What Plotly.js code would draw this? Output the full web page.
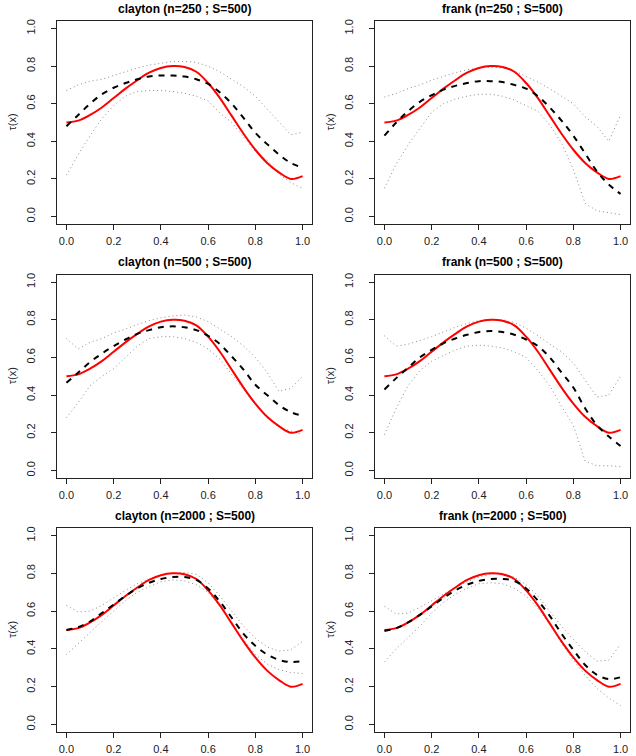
<!DOCTYPE html>
<html>
<head>
<meta charset="utf-8">
<script src="https://cdn.plot.ly/plotly-3.0.1.min.js"></script>
<style>body{margin:0;padding:0;background:#fff}#chart{width:636px;height:756px}</style>
</head>
<body>
<div id="chart"></div>
<script>
// Shared x grid
const xGrid = [0,0.05,0.1,0.15,0.2,0.25,0.3,0.35,0.4,0.45,0.5,0.55,0.6,0.65,0.7,0.75,0.8,0.85,0.9,0.95,1.0];

// True tau(x) (red)
const truth = [0.50,0.51,0.54,0.58,0.63,0.68,0.725,0.765,0.79,0.80,0.795,0.77,0.71,0.63,0.535,0.44,0.355,0.285,0.235,0.20,0.215];

// Panel titles
const panelTitles = ["clayton (n=250 ; S=500)","frank (n=250 ; S=500)","clayton (n=500 ; S=500)","frank (n=500 ; S=500)","clayton (n=2000 ; S=500)","frank (n=2000 ; S=500)"];

// clayton n=250
const claytonN250Mean  = [0.48,0.54,0.60,0.65,0.685,0.71,0.73,0.745,0.75,0.75,0.745,0.73,0.705,0.66,0.60,0.525,0.445,0.385,0.33,0.285,0.26];
const claytonN250Upper = [0.67,0.70,0.72,0.73,0.75,0.77,0.79,0.805,0.815,0.825,0.825,0.82,0.80,0.77,0.73,0.69,0.64,0.57,0.50,0.435,0.448];
const claytonN250Lower = [0.22,0.33,0.43,0.52,0.59,0.64,0.665,0.67,0.67,0.665,0.655,0.64,0.615,0.55,0.50,0.42,0.345,0.30,0.225,0.18,0.15];

// frank n=250
const frankN250Mean  = [0.43,0.50,0.56,0.61,0.645,0.675,0.695,0.71,0.72,0.72,0.715,0.70,0.68,0.64,0.58,0.51,0.43,0.335,0.24,0.17,0.12];
const frankN250Upper = [0.635,0.655,0.68,0.70,0.725,0.745,0.765,0.78,0.79,0.795,0.79,0.775,0.745,0.715,0.68,0.64,0.60,0.53,0.48,0.40,0.54];
const frankN250Lower = [0.15,0.28,0.38,0.47,0.555,0.60,0.625,0.64,0.65,0.65,0.64,0.62,0.59,0.56,0.487,0.39,0.25,0.07,0.03,0.02,0.01];

// clayton n=500
const claytonN500Mean  = [0.465,0.52,0.575,0.62,0.66,0.695,0.725,0.745,0.76,0.765,0.76,0.745,0.715,0.67,0.605,0.535,0.455,0.40,0.347,0.31,0.29];
const claytonN500Upper = [0.70,0.645,0.68,0.70,0.73,0.75,0.775,0.795,0.81,0.82,0.825,0.815,0.79,0.75,0.71,0.66,0.60,0.52,0.42,0.435,0.50];
const claytonN500Lower = [0.28,0.36,0.45,0.50,0.54,0.60,0.66,0.70,0.71,0.71,0.70,0.68,0.645,0.59,0.51,0.43,0.35,0.28,0.23,0.21,0.19];

// frank n=500
const frankN500Mean  = [0.43,0.49,0.545,0.60,0.64,0.675,0.70,0.72,0.735,0.74,0.735,0.72,0.695,0.66,0.60,0.52,0.44,0.33,0.24,0.18,0.13];
const frankN500Upper = [0.715,0.66,0.67,0.69,0.71,0.735,0.76,0.78,0.795,0.80,0.80,0.785,0.755,0.715,0.67,0.63,0.57,0.48,0.39,0.40,0.50];
const frankN500Lower = [0.19,0.33,0.45,0.53,0.58,0.61,0.64,0.66,0.665,0.66,0.65,0.63,0.60,0.53,0.45,0.34,0.24,0.05,0.025,0.025,0.02];

// clayton n=2000
const claytonN2000Mean  = [0.50,0.515,0.545,0.59,0.635,0.68,0.72,0.75,0.77,0.78,0.78,0.765,0.72,0.65,0.565,0.48,0.416,0.37,0.342,0.33,0.335];
const claytonN2000Upper = [0.63,0.595,0.60,0.63,0.67,0.71,0.745,0.77,0.79,0.80,0.805,0.795,0.75,0.68,0.60,0.52,0.457,0.41,0.388,0.395,0.44];
const claytonN2000Lower = [0.37,0.43,0.49,0.545,0.60,0.655,0.70,0.73,0.755,0.765,0.76,0.74,0.70,0.625,0.54,0.45,0.37,0.32,0.29,0.275,0.27];

// frank n=2000
const frankN2000Mean  = [0.495,0.51,0.54,0.58,0.625,0.67,0.71,0.74,0.76,0.77,0.77,0.76,0.72,0.655,0.575,0.48,0.395,0.315,0.263,0.24,0.25];
const frankN2000Upper = [0.625,0.585,0.59,0.62,0.655,0.69,0.725,0.755,0.78,0.795,0.80,0.78,0.74,0.68,0.60,0.52,0.45,0.385,0.335,0.34,0.425];
const frankN2000Lower = [0.33,0.40,0.46,0.52,0.59,0.645,0.69,0.72,0.745,0.75,0.745,0.72,0.68,0.615,0.53,0.43,0.34,0.26,0.19,0.14,0.10];

const panels = [
  {mean: claytonN250Mean, upper: claytonN250Upper, lower: claytonN250Lower},
  {mean: frankN250Mean, upper: frankN250Upper, lower: frankN250Lower},
  {mean: claytonN500Mean, upper: claytonN500Upper, lower: claytonN500Lower},
  {mean: frankN500Mean, upper: frankN500Upper, lower: frankN500Lower},
  {mean: claytonN2000Mean, upper: claytonN2000Upper, lower: claytonN2000Lower},
  {mean: frankN2000Mean, upper: frankN2000Upper, lower: frankN2000Lower}
];

const W = 636, H = 756;
const colPx = [[57, 312], [375, 630]];
const rowPx = [[21, 224], [274.5, 478], [528, 732]];
const FONT = '"Liberation Sans", Arial, Helvetica, sans-serif';

const traces = [];
const layout = {
  width: W, height: H,
  margin: {l: 0, r: 0, t: 0, b: 0},
  paper_bgcolor: '#fff', plot_bgcolor: '#fff',
  showlegend: false,
  font: {family: FONT, size: 11, color: '#000'},
  annotations: []
};

panels.forEach((p, i) => {
  const r = Math.floor(i / 2), c = i % 2;
  const sfx = i === 0 ? '' : String(i + 1);
  const xa = 'x' + sfx, ya = 'y' + sfx;
  const common = {x: xGrid, xaxis: xa, yaxis: ya, mode: 'lines', hoverinfo: 'skip'};
  traces.push(Object.assign({}, common, {y: p.upper, line: {color: '#8c8c8c', width: 1, dash: '1px,3px'}}));
  traces.push(Object.assign({}, common, {y: p.lower, line: {color: '#8c8c8c', width: 1, dash: '1px,3px'}}));
  traces.push(Object.assign({}, common, {y: truth, line: {color: '#ff0000', width: 2, shape: 'spline', smoothing: 1}}));
  traces.push(Object.assign({}, common, {y: p.mean, line: {color: '#000', width: 2, dash: '6px,6px', shape: 'spline', smoothing: 1}}));

  const axCommon = {
    range: [-0.04, 1.04], showgrid: false, zeroline: false,
    showline: true, mirror: true, linecolor: '#222', linewidth: 1,
    ticks: 'outside', ticklen: 5, tickcolor: '#222', tickwidth: 1,
    tickvals: [0, 0.2, 0.4, 0.6, 0.8, 1.0],
    ticktext: ['0.0', '0.2', '0.4', '0.6', '0.8', '1.0'],
    tickfont: {family: FONT, size: 11, color: '#222'},
    fixedrange: true
  };
  layout['xaxis' + sfx] = Object.assign({}, axCommon, {
    domain: [colPx[c][0] / W, colPx[c][1] / W], anchor: ya,
    ticklabelstandoff: 2
  });
  layout['yaxis' + sfx] = Object.assign({}, axCommon, {
    domain: [1 - rowPx[r][1] / H, 1 - rowPx[r][0] / H], anchor: xa,
    tickangle: -90, ticklabelstandoff: 12
  });
  layout.annotations.push({
    text: '<b>' + panelTitles[i] + '</b>', xref: 'paper', yref: 'paper',
    x: (colPx[c][0] + colPx[c][1]) / 2 / W, y: 1 - (rowPx[r][0] - 12.5) / H,
    xanchor: 'center', yanchor: 'middle', showarrow: false,
    font: {family: FONT, size: 12, color: '#000'}
  });
  layout.annotations.push({
    text: 'τ(x)', xref: 'paper', yref: 'paper',
    x: (colPx[c][0] - 45) / W, y: 1 - (rowPx[r][0] + rowPx[r][1]) / 2 / H,
    xanchor: 'center', yanchor: 'middle', showarrow: false, textangle: -90,
    font: {family: FONT, size: 11, color: '#222'}
  });
});

Plotly.newPlot('chart', traces, layout, {staticPlot: true, displayModeBar: false});
</script>
</body>
</html>
